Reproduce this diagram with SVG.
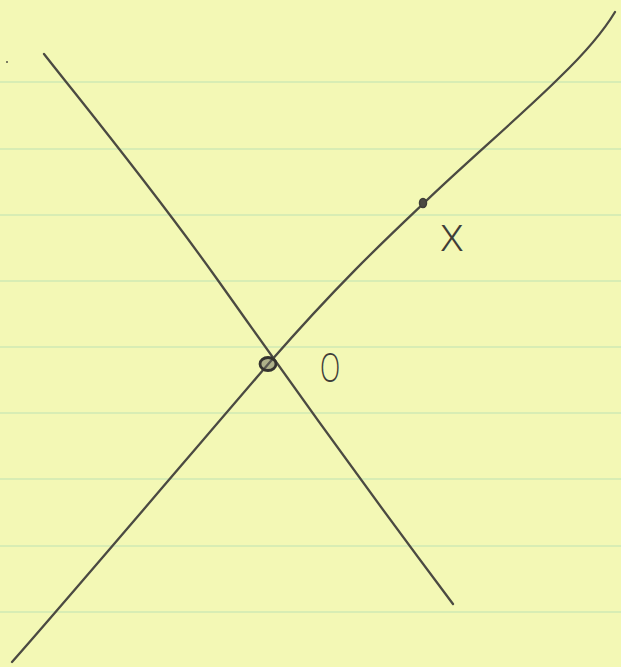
<svg xmlns="http://www.w3.org/2000/svg" width="621" height="667" viewBox="0 0 621 667">
<style>
.rule{stroke:#d8edb4;stroke-width:2;fill:none}
.pen{stroke:#4b4a42;stroke-width:2.3;fill:none;stroke-linecap:round;stroke-linejoin:round}
.lbl{font-family:"Open Sans","DejaVu Sans",sans-serif;font-weight:300;fill:#3f3e38}
</style>
<rect x="0" y="0" width="621" height="667" fill="#f3f8b5"/>
<g id="ruling">
<line class="rule" x1="0" y1="82" x2="621" y2="82"/>
<line class="rule" x1="0" y1="149" x2="621" y2="149"/>
<line class="rule" x1="0" y1="215" x2="621" y2="215"/>
<line class="rule" x1="0" y1="281" x2="621" y2="281"/>
<line class="rule" x1="0" y1="347" x2="621" y2="347"/>
<line class="rule" x1="0" y1="413" x2="621" y2="413"/>
<line class="rule" x1="0" y1="479" x2="621" y2="479"/>
<line class="rule" x1="0" y1="546" x2="621" y2="546"/>
<line class="rule" x1="0" y1="612" x2="621" y2="612"/>
</g>
<g id="connectors">
<path class="pen" d="M44,54 C80,100 150,185 217,279 S330,440 453,604"/>
<path class="pen" d="M12,662 C60,608 190,455 270,362 C340,282 385,240 424,203 C460,168 525,112 560,77 C588,50 603,32 615,12"/>
</g>
<g id="node-origin">
<ellipse cx="268" cy="364" rx="8" ry="6.5" fill="#6a6960" fill-opacity="0.5" stroke="#35342f" stroke-width="2.8"/>
<text class="lbl" x="330" y="382" font-size="40" text-anchor="middle" transform="translate(330 0) scale(0.66 1) translate(-330 0)">O</text>
</g>
<g id="node-x">
<ellipse cx="423" cy="203" rx="3.5" ry="4.5" fill="#4b4a42" stroke="#3f3e38" stroke-width="1.5"/>
<text class="lbl" x="452" y="251" font-size="48" text-anchor="middle">x</text>
</g>
<circle cx="7" cy="62" r="1" fill="#55544a"/>
</svg>
